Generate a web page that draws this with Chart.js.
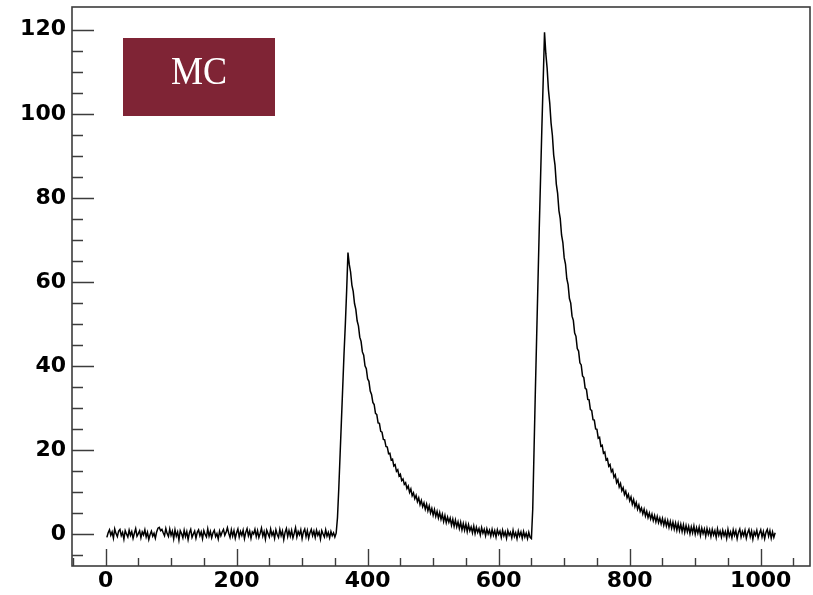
<!DOCTYPE html>
<html>
<head>
<meta charset="utf-8">
<script src="https://cdn.jsdelivr.net/npm/chart.js@4/dist/chart.umd.min.js"></script>
<style>
  html, body { margin: 0; padding: 0; background: #fff; }
  #wave { display: block; }
</style>
</head>
<body>
<canvas id="wave" width="813" height="595"></canvas>
<script>
// trace stored every 2 samples
const SAMPLE_STEP = 2;

// pedestal before the first pulse, samples 2..350
const baselineStart = 2;
const baselineCounts = [
    -0.7, 0.4, 1.1, -0.2, 0.6, -0.9, 1.3, 0.2, -0.5, 0.8,
    1.2, -0.3, 0.5, -1.1, 0.9, 0.1, -0.6, 1.0, -0.2, 0.7,
    -0.9, 0.3, 1.4, -0.4, 0.2, 0.9, -0.8, 0.6, -0.1, 1.1,
    -0.6, 0.5, -1.2, 0.0, 0.8, -0.4, 0.3, -0.9, 0.6, 1.5,
    1.7, 0.9, 1.2, 0.4, -0.3, 1.4, 0.2, -0.5, 1.3, -0.2,
    0.8, -1.0, 1.1, -0.4, 0.6, -1.3, 0.9, 0.2, -0.8, 1.0,
    -0.5, 0.7, -1.2, 0.4, 1.2, -0.7, 0.1, 0.8, -0.9, 0.5,
    1.1, -0.3, 0.6, -1.0, 0.9, 0.0, -0.6, 1.3, -0.4, 0.7,
    -0.8, 0.4, 1.0, -0.5, 0.2, -1.1, 0.8, -0.3, 0.6, 1.2,
    -0.2, 0.5, 1.6, 0.3, -0.7, 1.1, -0.4, 0.9, -0.9, 0.4,
    1.3, -0.6, 0.7, -0.2, 1.0, -1.0, 0.5, 1.4, -0.3, 0.8,
    -0.9, 0.6, 0.1, 1.2, -0.5, 0.9, -0.7, 0.3, 1.5, -0.4,
    0.7, -1.1, 1.0, 0.2, -0.6, 1.3, -0.2, 0.6, -0.9, 1.1,
    0.0, -0.7, 1.2, -0.3, 0.8, -1.2, 0.5, 1.4, -0.5, 0.9,
    -0.4, 1.0, -0.8, 0.3, 1.6, -0.6, 0.7, -0.1, 1.1, -1.0,
    0.6, 1.3, -0.5, 0.9, -0.9, 0.4, 1.2, -0.3, 0.8, -0.7,
    1.0, -0.2, 0.6, -1.1, 0.9, 0.1, -0.6, 1.1, -0.4, 0.5,
    -0.8, 0.7, -0.3, 0.4, -0.6
];

// first pulse, samples 352..650
const firstPulseStart = 352;
const firstPulseCounts = [
    0.3, 4, 11, 19, 27, 35, 43, 50, 58,
    67.0, 64.2, 62.4, 59.3, 57.8, 54.9, 53.5, 50.8, 49.6, 46.9,
    45.9, 43.4, 42.6, 40.1, 39.4, 37.0, 36.4, 34.1, 33.3, 31.4,
    30.9, 28.8, 28.5, 26.5, 26.4, 24.5, 24.3, 22.6, 22.5, 20.9,
    20.8, 19.2, 19.3, 17.7, 17.9, 16.3, 16.6, 15.0, 15.4, 13.9,
    14.3, 12.8, 13.2, 11.9, 12.3, 10.9, 11.5, 10.0, 10.8, 9.2,
    9.9, 8.5, 9.3, 7.8, 8.7, 7.1, 8.1, 6.6, 7.5, 6.0,
    7.2, 5.6, 6.8, 5.1, 6.2, 4.6, 5.9, 4.3, 5.5, 3.9,
    5.2, 3.6, 4.8, 3.1, 4.5, 2.8, 4.1, 2.9, 3.9, 2.2,
    3.6, 1.9, 3.4, 1.8, 3.0, 1.4, 2.9, 1.1, 2.6, 1.0,
    2.5, 0.7, 2.3, 0.9, 1.8, 0.4, 2.0, 0.2, 1.7, 0.5,
    1.4, -0.1, 1.6, 0.3, 1.2, -0.3, 1.3, 0.1, 1.0, -0.4,
    1.2, -0.2, 0.9, -0.6, 1.1, 0.0, 0.8, -0.7, 1.0, -0.3,
    0.6, -0.9, 0.9, -0.2, 0.5, -0.8, 1.0, -0.5, 0.4, -1.0,
    0.8, -0.4, 0.6, -0.9, 0.7, -0.6, 0.3, -1.0, 0.5, -0.7,
    -1.0
];

// second pulse, samples 652..1022
const secondPulseStart = 652;
const secondPulseCounts = [
    6, 20, 34, 47, 60, 73, 85, 97, 108,
    119.4, 114.3, 110.8, 105.7, 102.5, 97.8, 94.9, 90.2, 87.8, 83.3,
    81.1, 77.0, 75.1, 71.2, 69.4, 65.8, 64.3, 60.8, 59.4, 56.1,
    55.0, 51.9, 50.9, 47.9, 47.1, 44.2, 43.6, 40.8, 40.3, 37.7,
    37.3, 34.8, 34.5, 32.1, 32.0, 29.7, 29.5, 27.3, 27.2, 25.1,
    25.0, 22.9, 23.1, 21.0, 21.2, 19.3, 19.6, 17.7, 18.0, 16.2,
    16.6, 14.9, 15.4, 13.6, 14.2, 12.3, 13.0, 11.3, 12.1, 10.4,
    11.1, 9.5, 10.3, 8.7, 9.5, 8.0, 8.9, 7.2, 8.3, 6.6,
    7.6, 6.0, 7.0, 5.5, 6.3, 4.9, 6.0, 4.4, 5.5, 4.0,
    5.1, 3.7, 4.8, 3.3, 4.5, 3.0, 4.3, 2.8, 3.9, 2.5,
    3.8, 2.2, 3.5, 2.0, 3.3, 1.7, 3.1, 1.5, 2.9, 1.3,
    2.7, 1.0, 2.6, 0.9, 2.4, 0.7, 2.3, 0.5, 2.1, 0.6,
    1.9, 0.2, 1.8, 0.4, 2.0, 0.1, 1.6, 0.3, 1.7, -0.2,
    1.5, 0.2, 1.3, -0.4, 1.4, 0.0, 1.1, -0.5, 1.2, -0.1,
    0.9, -0.7, 1.3, -0.2, 0.8, -0.6, 1.0, -0.3, 0.7, -0.9,
    1.2, -0.4, 0.6, -0.8, 1.1, -0.2, 0.9, -1.0, 0.5, 1.3,
    -0.6, 0.7, -0.3, 1.0, -0.9, 0.4, 1.2, -0.5, 0.8, -1.1,
    0.6, -0.2, 1.0, -0.8, 0.3, 1.1, -0.6, 0.7, -1.0, 0.5,
    1.2, -0.4, 0.9, -0.9, 0.6, -0.7, 0.4
];

const xTickValues = [0, 200, 400, 600, 800, 1000];
const yTickValues = [0, 20, 40, 60, 80, 100, 120];
const xRange = [-51.2, 1075.2];
const yRange = [-7.5, 125.4];
const tagText = 'MC';

function segment(start, counts) {
    return counts.map((v, i) => ({ x: start + i * SAMPLE_STEP, y: v }));
}

const trace = [
    ...segment(baselineStart, baselineCounts),
    ...segment(firstPulseStart, firstPulseCounts),
    ...segment(secondPulseStart, secondPulseCounts)
];

// frame, inward tick marks and the MC tag
const framePlugin = {
    id: 'frame',
    afterDraw(chart) {
        const { ctx, chartArea: a, scales: { x, y } } = chart;
        ctx.save();
        ctx.strokeStyle = '#3c3c3c';
        ctx.lineWidth = 1.6;
        ctx.strokeRect(a.left, a.top, a.right - a.left, a.bottom - a.top);

        ctx.lineWidth = 1.4;
        ctx.beginPath();
        for (let v = -50; v <= 1050; v += 50) {
            const px = Math.round(x.getPixelForValue(v)) + 0.5;
            if (px <= a.left + 1 || px >= a.right - 1) continue;
            const len = v % 200 === 0 ? 17 : 8;
            ctx.moveTo(px, a.bottom);
            ctx.lineTo(px, a.bottom - len);
        }
        for (let v = -5; v <= 120; v += 5) {
            const py = Math.round(y.getPixelForValue(v)) + 0.5;
            if (py <= a.top + 1 || py >= a.bottom - 1) continue;
            const len = v % 20 === 0 ? 22 : 11;
            ctx.moveTo(a.left, py);
            ctx.lineTo(a.left + len, py);
        }
        ctx.stroke();

        const bx = a.left + 51, by = a.top + 31, bw = 152, bh = 78;
        ctx.fillStyle = '#7f2435';
        ctx.fillRect(bx, by, bw, bh);

        // slightly narrowed serif label
        ctx.translate(bx + bw / 2, by + 46);
        ctx.scale(0.88, 1);
        ctx.fillStyle = '#ffffff';
        ctx.font = '41px "Liberation Serif", serif';
        ctx.textAlign = 'center';
        ctx.textBaseline = 'alphabetic';
        ctx.fillText(tagText, 0, 0);
        ctx.restore();
    }
};

const tickFont = { family: '"DejaVu Sans", sans-serif', size: 22, weight: 'bold' };

new Chart(document.getElementById('wave'), {
    type: 'line',
    data: {
        datasets: [{
            data: trace,
            borderColor: '#000000',
            borderWidth: 1.5,
            pointRadius: 0,
            tension: 0,
            fill: false
        }]
    },
    options: {
        responsive: false,
        animation: false,
        layout: { padding: { top: 7, right: 3, left: 0, bottom: 0 } },
        plugins: { legend: { display: false }, tooltip: { enabled: false } },
        scales: {
            x: {
                type: 'linear',
                min: xRange[0],
                max: xRange[1],
                afterBuildTicks: s => { s.ticks = xTickValues.map(v => ({ value: v })); },
                afterFit: s => { s.height = 29; s.paddingLeft = 0; s.paddingRight = 0; },
                grid: { display: false, drawTicks: false },
                border: { display: false },
                ticks: {
                    padding: 2,
                    maxRotation: 0,
                    autoSkip: false,
                    color: '#000',
                    font: tickFont,
                    callback: v => String(v)
                }
            },
            y: {
                type: 'linear',
                min: yRange[0],
                max: yRange[1],
                afterBuildTicks: s => { s.ticks = yTickValues.map(v => ({ value: v })); },
                afterFit: s => { s.width = 72; s.paddingTop = 0; s.paddingBottom = 0; },
                grid: { display: false, drawTicks: false },
                border: { display: false },
                ticks: {
                    padding: 6,
                    autoSkip: false,
                    color: '#000',
                    font: tickFont,
                    callback: v => String(v)
                }
            }
        }
    },
    plugins: [framePlugin]
});
</script>
</body>
</html>
